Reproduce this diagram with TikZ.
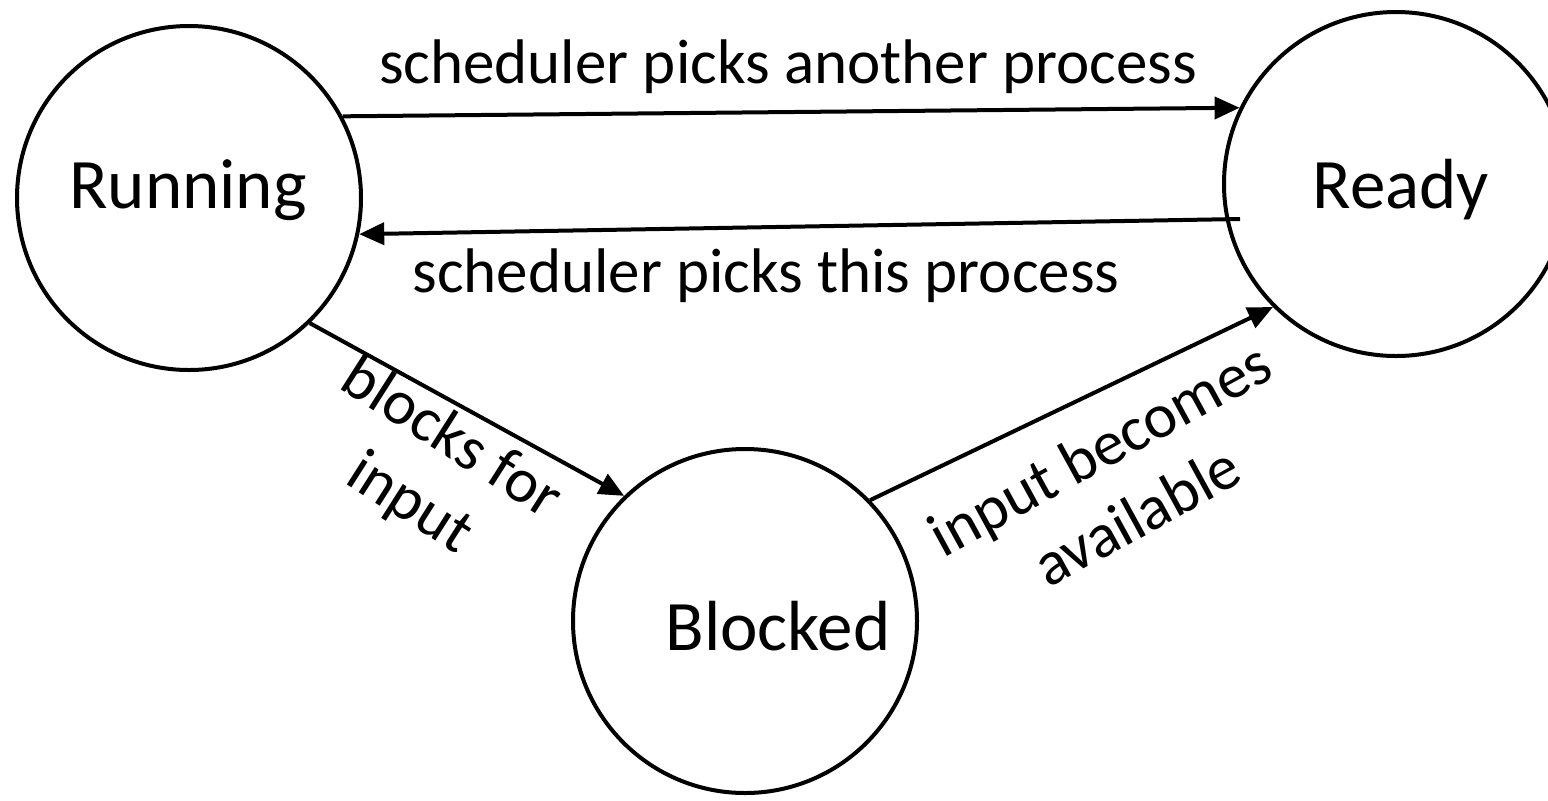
\documentclass[tikz,border=0pt]{standalone}
\usepackage{fontspec}
\setmainfont{Carlito}
\usetikzlibrary{arrows.meta}

\begin{document}
\begin{tikzpicture}[x=0.5pt,y=-0.5pt,
  state/.style={circle,draw=black,line width=2pt,minimum size=172pt,inner sep=0pt},
  statetxt/.style={anchor=base,inner sep=0pt,font=\fontsize{35.5}{42}\selectfont},
  edgetxt/.style={inner sep=0pt,align=center,font=\fontsize{31.5}{38.5}\selectfont},
  arrow/.style={-{Triangle[length=12.5pt,width=11pt]},line width=2pt}
]
\useasboundingbox (0,0) rectangle (1548,800);
% states
\node[state] (run) at (189,198) {};
\node[state] (rdy) at (1396,184) {};
\node[state] (blk) at (745,621) {};
\node[statetxt] (runtxt) at (188,208) {Running};
\node[statetxt] (rdytxt) at (1401,208) {Ready};
\node[statetxt] (blktxt) at (778,650) {Blocked};
% transitions
\coordinate (rdyin) at (1240,219);
\draw[arrow] (run.28.8) -- (rdy.154.3);
\draw[arrow] (rdyin) -- (run.-12.3);
\draw[arrow] (run.-46) -- (blk.134.5);
\draw[arrow] (blk.44.3) -- (rdy.-135);
\node[edgetxt,anchor=base] (picknew) at (788,83) {scheduler picks another process};
\node[edgetxt,anchor=base] (pickthis) at (766,292) {scheduler picks this process};
\node[edgetxt,rotate=-32.5] (waitin) at (430,472) {blocks for\\input};
\node[edgetxt,rotate=28.7] (gotin) at (1118,482) {input becomes\\available};
\end{tikzpicture}
\end{document}
